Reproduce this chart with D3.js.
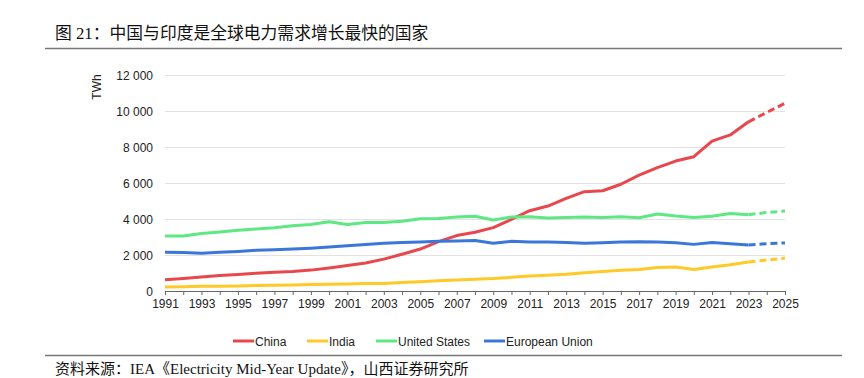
<!DOCTYPE html>
<html><head><meta charset="utf-8">
<script src="https://cdn.jsdelivr.net/npm/d3@7"></script>
<style>body{margin:0;background:#fff;} svg{display:block;}</style>
</head><body>
<svg id="c" width="864" height="378"></svg>
<script>
const years = d3.range(1991, 2026);
const seriesNames = ["China", "India", "United States", "European Union"];
const seriesColors = ["#e8474c", "#ffc928", "#5ee883", "#3b77d9"];
const china = [630,700,780,860,920,990,1040,1080,1160,1280,1420,1560,1770,2040,2330,2740,3080,3260,3520,3980,4460,4720,5150,5520,5570,5930,6440,6850,7220,7460,8330,8670,9400,9920,10430];
const india = [220,240,260,270,280,300,320,340,360,380,390,410,420,470,520,570,610,650,690,760,830,880,930,1010,1090,1150,1200,1300,1330,1200,1330,1460,1610,1720,1830];
const us = [3050,3060,3200,3280,3370,3450,3520,3620,3700,3850,3700,3800,3810,3880,4020,4030,4110,4150,3940,4110,4130,4060,4090,4110,4090,4130,4070,4280,4170,4090,4150,4300,4240,4360,4440];
const eu = [2150,2140,2100,2150,2200,2260,2290,2330,2380,2450,2520,2580,2650,2690,2720,2760,2780,2800,2650,2760,2720,2720,2700,2650,2680,2720,2740,2720,2680,2590,2700,2630,2560,2630,2670];
const seriesValues = [china, india, us, eu];
const yTicks = [0,2000,4000,6000,8000,10000,12000];
const xTickYears = d3.range(1991, 2026, 2);
const lastActual = 2023;
const titleText = "图 21：中国与印度是全球电力需求增长最快的国家";
const sourceText = "资料来源：IEA《Electricity Mid-Year Update》，山西证券研究所";
const yLabel = "TWh";

const svg = d3.select("#c");
const x = d3.scaleLinear().domain([1991, 2025]).range([165, 785]);
const y = d3.scaleLinear().domain([0, 12000]).range([291, 75]);

// title
svg.append("text").attr("x", 55).attr("y", 39).attr("font-family", "Liberation Serif, Noto Sans CJK SC").attr("font-size", 16.8).attr("fill", "#111").text(titleText);
svg.append("line").attr("x1", 45).attr("x2", 842).attr("y1", 48.5).attr("y2", 48.5).attr("stroke", "#777").attr("stroke-width", 1.5);

// grid
svg.append("g").selectAll("line").data(yTicks.filter(d => d > 0)).join("line")
  .attr("x1", x(1991)).attr("x2", x(2025)).attr("y1", d => Math.round(y(d)) + 0.5).attr("y2", d => Math.round(y(d)) + 0.5)
  .attr("stroke", "#e2e2e2").attr("stroke-width", 1);

// y labels
const fmt = d => d3.format(",")(d).replace(/,/g, " ");
svg.append("g").selectAll("text").data(yTicks).join("text")
  .attr("x", 153).attr("y", d => y(d) + 4.5).attr("text-anchor", "end")
  .attr("font-family", "Liberation Sans, Arial").attr("font-size", 12).attr("fill", "#222").text(fmt);

svg.append("text").attr("transform", `translate(101,87) rotate(-90)`).attr("text-anchor", "middle")
  .attr("font-family", "Liberation Sans, Arial").attr("font-size", 12).attr("fill", "#222").text(yLabel);

// x axis
const xAxis = d3.axisBottom(x).tickValues(years).tickSize(4).tickSizeOuter(0).tickFormat(d => xTickYears.includes(d) ? d : "");
const gx = svg.append("g").attr("transform", "translate(0,291)").call(xAxis);
gx.select(".domain").attr("stroke", "#666");
gx.selectAll(".tick line").attr("stroke", "#666");
gx.selectAll(".tick text").attr("font-family", "Liberation Sans, Arial").attr("font-size", 12).attr("fill", "#222").attr("dy", "0.85em");

// lines
const line = d3.line().x(d => x(d[0])).y(d => y(d[1])).curve(d3.curveLinear);
seriesValues.forEach((vals, i) => {
  const pts = years.map((yr, j) => [yr, vals[j]]);
  const actual = pts.filter(p => p[0] <= lastActual);
  const proj = pts.filter(p => p[0] >= lastActual);
  svg.append("path").datum(actual).attr("d", line).attr("fill", "none").attr("stroke", seriesColors[i]).attr("stroke-width", 3).attr("stroke-linejoin", "round");
  svg.append("path").datum(proj).attr("d", line).attr("fill", "none").attr("stroke", seriesColors[i]).attr("stroke-width", 3).attr("stroke-dasharray", "7,4");
});

// legend
const legX = [233, 307, 376, 484];
const lg = svg.append("g").selectAll("g").data(seriesNames).join("g").attr("transform", (d, i) => `translate(${legX[i]},341)`);
lg.append("line").attr("x1", 0).attr("x2", 21).attr("stroke", (d, i) => seriesColors[i]).attr("stroke-width", 3);
lg.append("text").attr("x", 22).attr("y", 4.5).attr("font-family", "Liberation Sans, Arial").attr("font-size", 12).attr("fill", "#222").text(d => d);

svg.append("line").attr("x1", 45).attr("x2", 842).attr("y1", 355.5).attr("y2", 355.5).attr("stroke", "#777").attr("stroke-width", 1.5);
svg.append("text").attr("x", 55).attr("y", 374).attr("font-family", "Liberation Serif, Noto Sans CJK SC").attr("font-size", 15).attr("fill", "#111").text(sourceText);
</script>
</body></html>
